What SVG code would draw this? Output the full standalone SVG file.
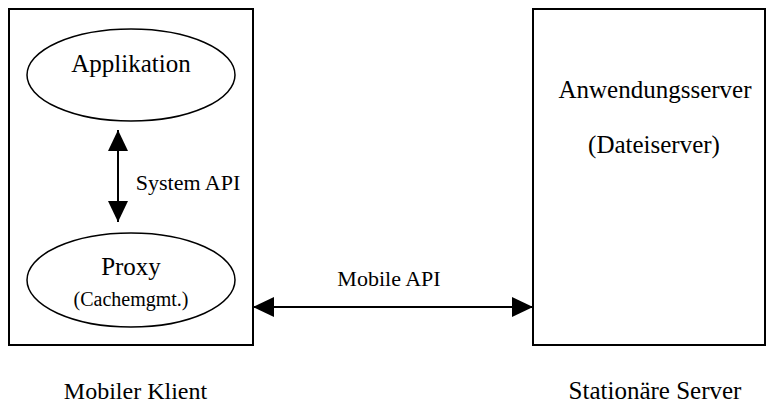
<svg xmlns="http://www.w3.org/2000/svg" width="766" height="406" viewBox="0 0 766 406">
  <defs>
    <marker id="head" viewBox="0 0 21 20" refX="21" refY="10" markerWidth="21" markerHeight="20" markerUnits="userSpaceOnUse" orient="auto-start-reverse">
      <path d="M0,0 L21,10 L0,20 Z" fill="#000"/>
    </marker>
  </defs>
  <style>
    text { font-family: "Liberation Serif", "Times New Roman", "DejaVu Serif", serif; fill: #000; text-anchor: middle; }
    .box { fill: #fff; stroke: #000; stroke-width: 2; }
    .node { fill: #fff; stroke: #000; stroke-width: 1.5; }
    .conn { fill: none; stroke: #000; stroke-width: 2; marker-start: url(#head); marker-end: url(#head); }
  </style>
  <rect width="766" height="406" fill="#fff"/>

  <g id="client">
    <rect class="box" x="9" y="9" width="244" height="336"/>
    <text x="135.5" y="399" font-size="24">Mobiler Klient</text>
  </g>

  <g id="server">
    <rect class="box" x="533" y="9" width="232" height="336"/>
    <text x="655" y="98" font-size="25">Anwendungsserver</text>
    <text x="654" y="153" font-size="25">(Dateiserver)</text>
    <text x="655" y="399" font-size="25">Stationäre Server</text>
  </g>

  <g id="app">
    <ellipse class="node" cx="131" cy="75" rx="104" ry="46"/>
    <text x="131" y="72" font-size="25">Applikation</text>
  </g>

  <g id="proxy">
    <ellipse class="node" cx="131" cy="280" rx="104" ry="47"/>
    <text x="131" y="275" font-size="25">Proxy</text>
    <text x="131" y="306" font-size="20">(Cachemgmt.)</text>
  </g>

  <g id="connectors">
    <line class="conn" x1="118" y1="130" x2="118" y2="222"/>
    <text x="188" y="190" font-size="22">System API</text>
    <line class="conn" x1="253" y1="307" x2="533" y2="307"/>
    <text x="389" y="286" font-size="22">Mobile API</text>
  </g>
</svg>
